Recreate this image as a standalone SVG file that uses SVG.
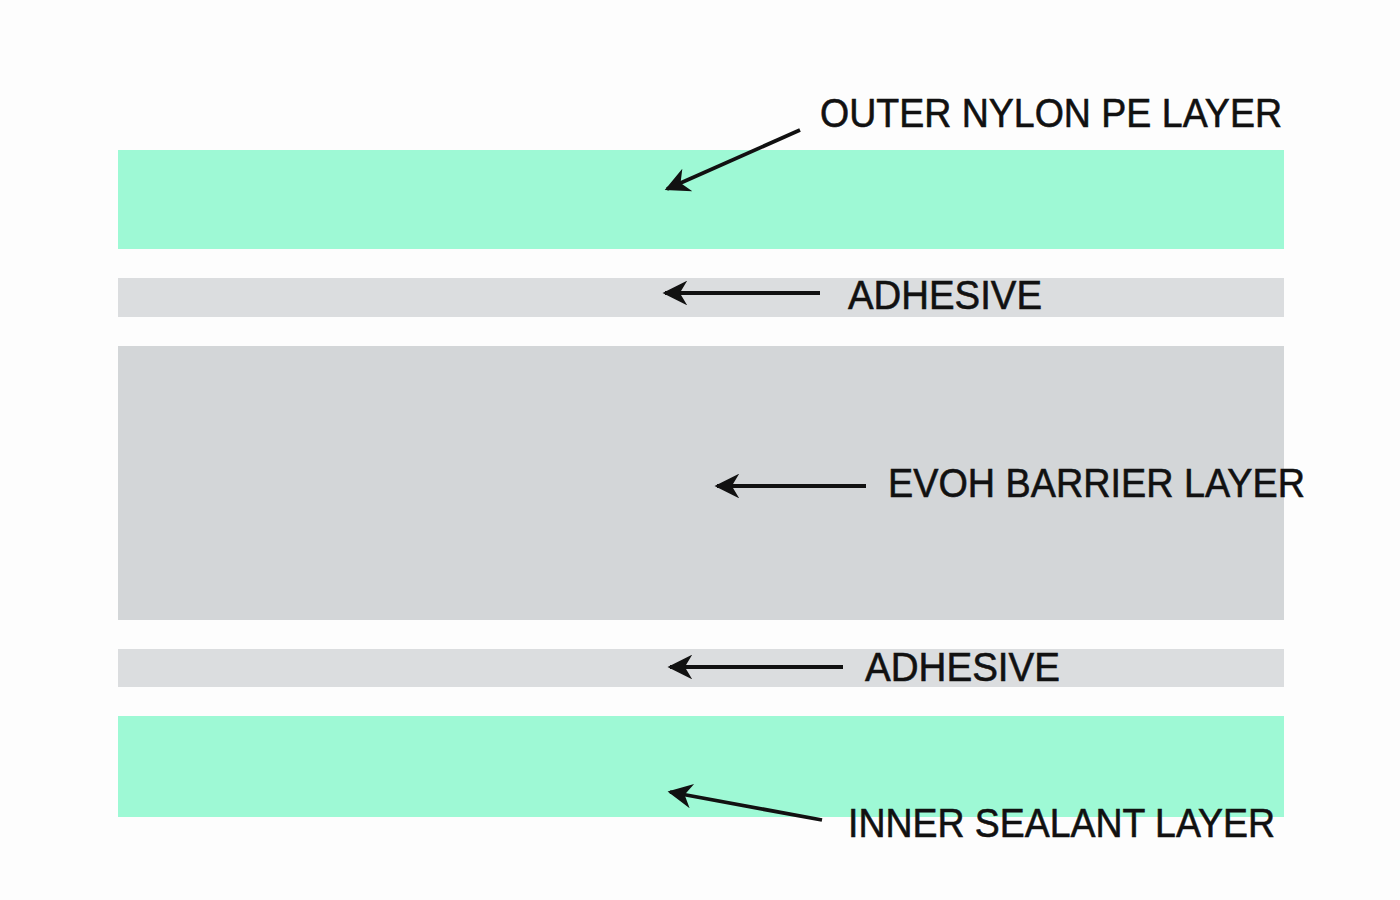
<svg xmlns="http://www.w3.org/2000/svg" width="1400" height="900" viewBox="0 0 1400 900">
<style>
.lbl{font-family:"Liberation Sans","DejaVu Sans",sans-serif;font-size:41px;fill:#111;stroke:#111;stroke-width:0.6;}
.conn{stroke:#111;stroke-width:3.8;fill:none;marker-end:url(#ah);}
.green{fill:#9ef9d5;}
.adh{fill:#dbdddf;}
.evoh{fill:#d3d6d8;}
</style>
<defs>
<marker id="ah" viewBox="0 0 10 10" refX="9" refY="5" markerWidth="8" markerHeight="6.5" markerUnits="strokeWidth" orient="auto">
<path d="M0,0 L10,5 L0,10 L3,5 Z" fill="#111"/>
</marker>
</defs>
<rect width="1400" height="900" fill="#fdfdfd"/>
<g id="outer-layer"><rect class="green" x="118" y="150" width="1166" height="99"/><text class="lbl" x="820" y="127" textLength="462" lengthAdjust="spacingAndGlyphs">OUTER NYLON PE LAYER</text></g>
<g id="adhesive-1"><rect class="adh" x="118" y="278" width="1166" height="39"/><text class="lbl" x="848" y="309" textLength="194" lengthAdjust="spacingAndGlyphs">ADHESIVE</text></g>
<g id="evoh-layer"><rect class="evoh" x="118" y="346" width="1166" height="274"/><text class="lbl" x="888" y="497" textLength="417" lengthAdjust="spacingAndGlyphs">EVOH BARRIER LAYER</text></g>
<g id="adhesive-2"><rect class="adh" x="118" y="649" width="1166" height="38"/><text class="lbl" x="865" y="681" textLength="195" lengthAdjust="spacingAndGlyphs">ADHESIVE</text></g>
<g id="inner-layer"><rect class="green" x="118" y="716" width="1166" height="101"/><text class="lbl" x="848" y="837" textLength="427" lengthAdjust="spacingAndGlyphs">INNER SEALANT LAYER</text></g>
<g id="connectors">
<line class="conn" x1="800" y1="130" x2="667" y2="189"/>
<line class="conn" x1="820" y1="293" x2="665" y2="293"/>
<line class="conn" x1="866" y1="486" x2="717" y2="486"/>
<line class="conn" x1="843" y1="667" x2="670" y2="667"/>
<line class="conn" x1="822" y1="820" x2="670" y2="792"/>
</g>
</svg>
